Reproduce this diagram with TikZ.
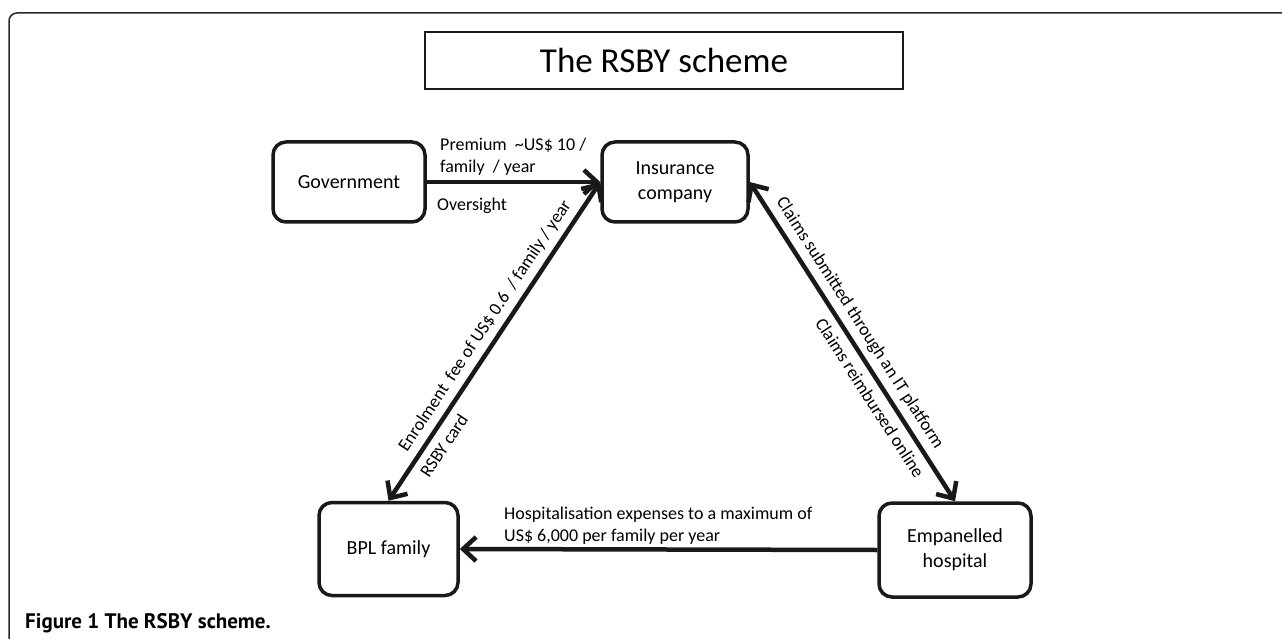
\documentclass[tikz,border=0pt]{standalone}
\usepackage{fontspec}
\setmainfont{Carlito}
\newfontfamily\capfont{PT Sans}
\usetikzlibrary{arrows.meta}

\begin{document}
\begin{tikzpicture}
  [x=1pt,y=-1pt,>={Straight Barb[length=13pt,width=24pt]},
   box/.style={draw=black!90,line width=3.5pt,rounded corners=13pt,align=center,font=\fontsize{20}{25}\selectfont},
   lbl/.style={inner sep=0pt,align=left,font=\fontsize{18}{22}\selectfont},
   link/.style={draw=black!90,line width=4.5pt}]
  \useasboundingbox (0,0) rectangle (1282,639);
  \draw[black!85,line width=1.5pt,rounded corners=8pt] (9,639) -- (9,13) -- (1282,13);

  \node[draw=black!90,line width=2pt,minimum width=478pt,minimum height=57pt,font=\fontsize{35}{40}\selectfont] (title) at (664,60.5) {The RSBY scheme};
  \node[box,minimum width=152pt,minimum height=80pt] (gov) at (349,182)   {Government};
  \node[box,minimum width=146pt,minimum height=80pt] (ins) at (675,182)   {Insurance\\company};
  \node[box,minimum width=139pt,minimum height=93pt] (bpl) at (388.5,549) {BPL family};
  \node[box,minimum width=152pt,minimum height=94pt] (emp) at (955,550)   {Empanelled\\hospital};

  \draw[link,->] (gov.east) -- (ins.west);
  \node[lbl,anchor=north west] (prem) at (440,138) {Premium\ \ \textasciitilde US\$ 10 /\\family\ \ / year};
  \node[lbl,anchor=west] (over) at (437,206) {Oversight};

  \draw[link,<->] (bpl.north) -- node[lbl,sloped,above=6pt,pos=.52] (enrol) {Enrolment\ \ fee of US\$ 0.6\ \ / family / year}
    node[lbl,sloped,below=7pt,pos=.2] (card) {RSBY card} (ins.west);
  \draw[link,<->] (ins.east) -- node[lbl,sloped,above=6pt,pos=.47] (subm) {Claims submitted through an IT platform}
    node[lbl,sloped,below=7pt,pos=.65] (reimb) {Claims reimbursed online} (emp.north);

  \draw[link,->] (emp.west) -- (bpl.east);
  \node[lbl,anchor=north west] (hosp) at (504,507) {Hospitalisation expenses to a maximum of\\US\$ 6,000 per family per year};

  \node[inner sep=0pt,anchor=base west,font=\capfont\bfseries\fontsize{21}{24}\selectfont] (cap) at (25,628) {Figure 1 The RSBY scheme.};
\end{tikzpicture}
\end{document}
